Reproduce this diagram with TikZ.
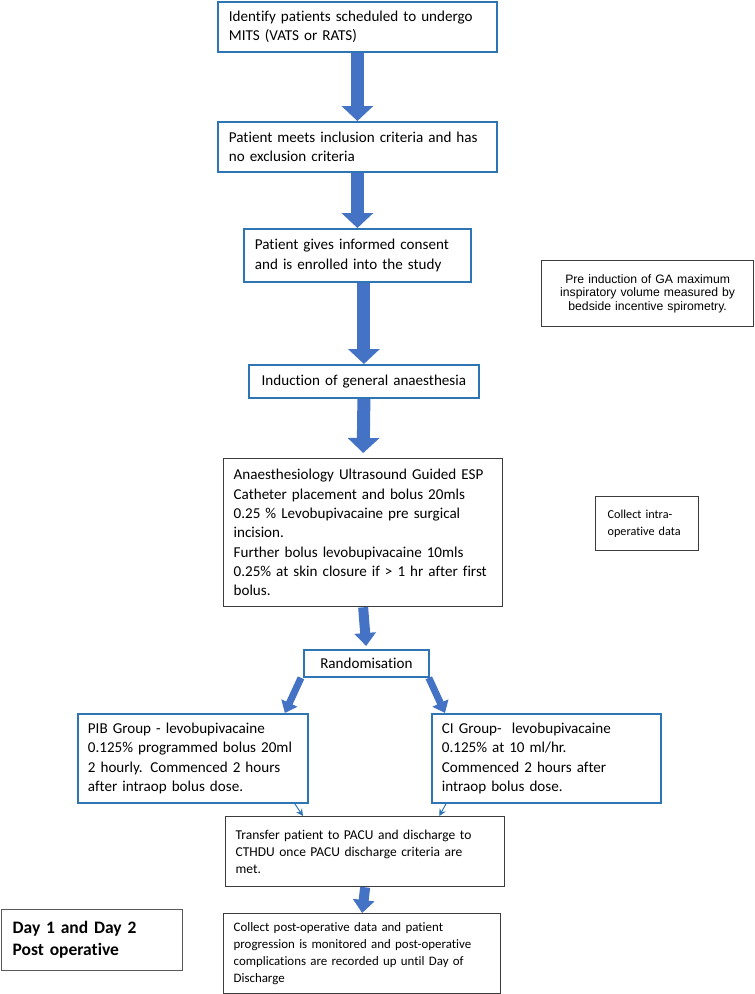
\documentclass[tikz,border=0pt]{standalone}
\usepackage{fontspec}
\setmainfont{Carlito}[Ligatures=NoCommon]
\newfontfamily\arialfont{Liberation Sans}
\usetikzlibrary{arrows.meta}
\definecolor{boxblue}{RGB}{46,117,182}
\definecolor{arrowblue}{RGB}{68,114,196}
\definecolor{boxgray}{RGB}{60,60,60}
\tikzset{
  bluebox/.style={draw=boxblue, line width=1.8pt, anchor=north west, align=left, inner xsep=12pt, inner ysep=0pt, font=\fontsize{15.1}{19.3}\selectfont},
  blackbox/.style={bluebox, draw=boxgray, line width=1.3pt},
  bigarrow/.style={arrowblue, line width=13pt, -{Triangle[width=31pt,length=15pt]}},
  midarrow/.style={arrowblue, line width=10pt, -{Triangle[width=21pt,length=13pt]}},
  sidearrow/.style={arrowblue, line width=7pt, -{Triangle[width=17pt,length=11pt]}},
  thinarrow/.style={boxblue, line width=1pt, -{Stealth[length=7pt,width=7pt]}}
}
\begin{document}
\begin{tikzpicture}[x=1pt,y=-1pt]
\useasboundingbox (0,0) rectangle (755,994);
\node[bluebox, text width=257pt, minimum height=50pt, inner xsep=11pt] (ident) at (217,1) {Identify patients scheduled to undergo\\MITS (VATS or RATS)};
\node[bluebox, text width=257pt, minimum height=50pt, inner xsep=11pt] (meets) at (217,121) {Patient meets inclusion criteria and has\\no exclusion criteria};
\node[bluebox, text width=205pt, minimum height=53pt, inner xsep=11pt] (cons) at (243,228) {Patient gives informed consent\\and is enrolled into the study};
\node[bluebox, text width=218pt, minimum height=33pt, inner xsep=6pt, align=center] (ind) at (248,364) {Induction of general anaesthesia};
\node[blackbox, text width=259pt, minimum height=148pt, inner xsep=10pt] (esp) at (223,458) {Anaesthesiology Ultrasound Guided ESP\\Catheter placement and bolus 20mls\\0.25 \% Levobupivacaine pre surgical\\incision.\\Further bolus levobupivacaine 10mls\\0.25\% at skin closure if > 1 hr after first\\bolus.};
\node[blackbox, text width=196pt, minimum height=66pt, inner xsep=8pt, align=center, font=\arialfont\fontsize{12.2}{13.6}\selectfont] (preind) at (541,260) {Pre induction of GA maximum\\inspiratory volume measured by\\bedside incentive spirometry.};
\node[blackbox, text width=79pt, minimum height=54pt, font=\fontsize{12.2}{16.8}\selectfont] (colint) at (595,496) {Collect intra-\\operative data};
\node[bluebox, text width=113pt, minimum height=27pt, inner xsep=6pt, align=center] (rand) at (303,649) {Randomisation};
\node[bluebox, text width=210pt, minimum height=89pt, inner xsep=10pt] (pib) at (77,713) {PIB Group - levobupivacaine\\0.125\% programmed bolus 20ml\\2 hourly. Commenced 2 hours\\after intraop bolus dose.};
\node[bluebox, text width=209pt, minimum height=89pt, inner xsep=10pt] (ci) at (431,713) {CI Group-~ levobupivacaine\\0.125\% at 10 ml/hr.\\Commenced 2 hours after\\intraop bolus dose.};
\node[blackbox, text width=259pt, minimum height=70pt, inner xsep=10pt, font=\fontsize{13.5}{17}\selectfont] (tr) at (225,816) {Transfer patient to PACU and discharge to\\CTHDU once PACU discharge criteria are\\met.};
\node[blackbox, text width=257pt, minimum height=80pt, inner xsep=10pt, font=\fontsize{12.9}{17.3}\selectfont] (post) at (223,913) {Collect post-operative data and patient\\progression is monitored and post-operative\\complications are recorded up until Day of\\Discharge};
\node[blackbox, draw=black!65, text width=159pt, minimum height=61pt, inner xsep=11pt, font=\bfseries\fontsize{17.5}{22}\selectfont] (day) at (1,909) {Day 1 and Day 2\\Post operative};
\draw[bigarrow] (ident.south) -- (meets.north);
\draw[bigarrow] (meets.south) -- (cons.north);
\draw[bigarrow] (cons.south -| ind.north) -- (ind.north);
\draw[bigarrow, shorten >=5pt] (ind.south) -- (esp.north);
\draw[midarrow, shorten >=3pt] (esp.south) -- (rand.north);
\draw[sidearrow] ([xshift=-2pt]rand.south west) -- ([xshift=-24pt]pib.north east);
\draw[sidearrow] ([xshift=-1pt]rand.south east) -- ([xshift=14pt]ci.north west);
\draw[thinarrow] ([xshift=-14pt]pib.south east) -- ([xshift=78pt]tr.north west);
\draw[thinarrow] ([xshift=15pt]ci.south west) -- ([xshift=-66pt]tr.north east);
\draw[midarrow] (tr.south) -- (post.north);
\end{tikzpicture}
\end{document}
